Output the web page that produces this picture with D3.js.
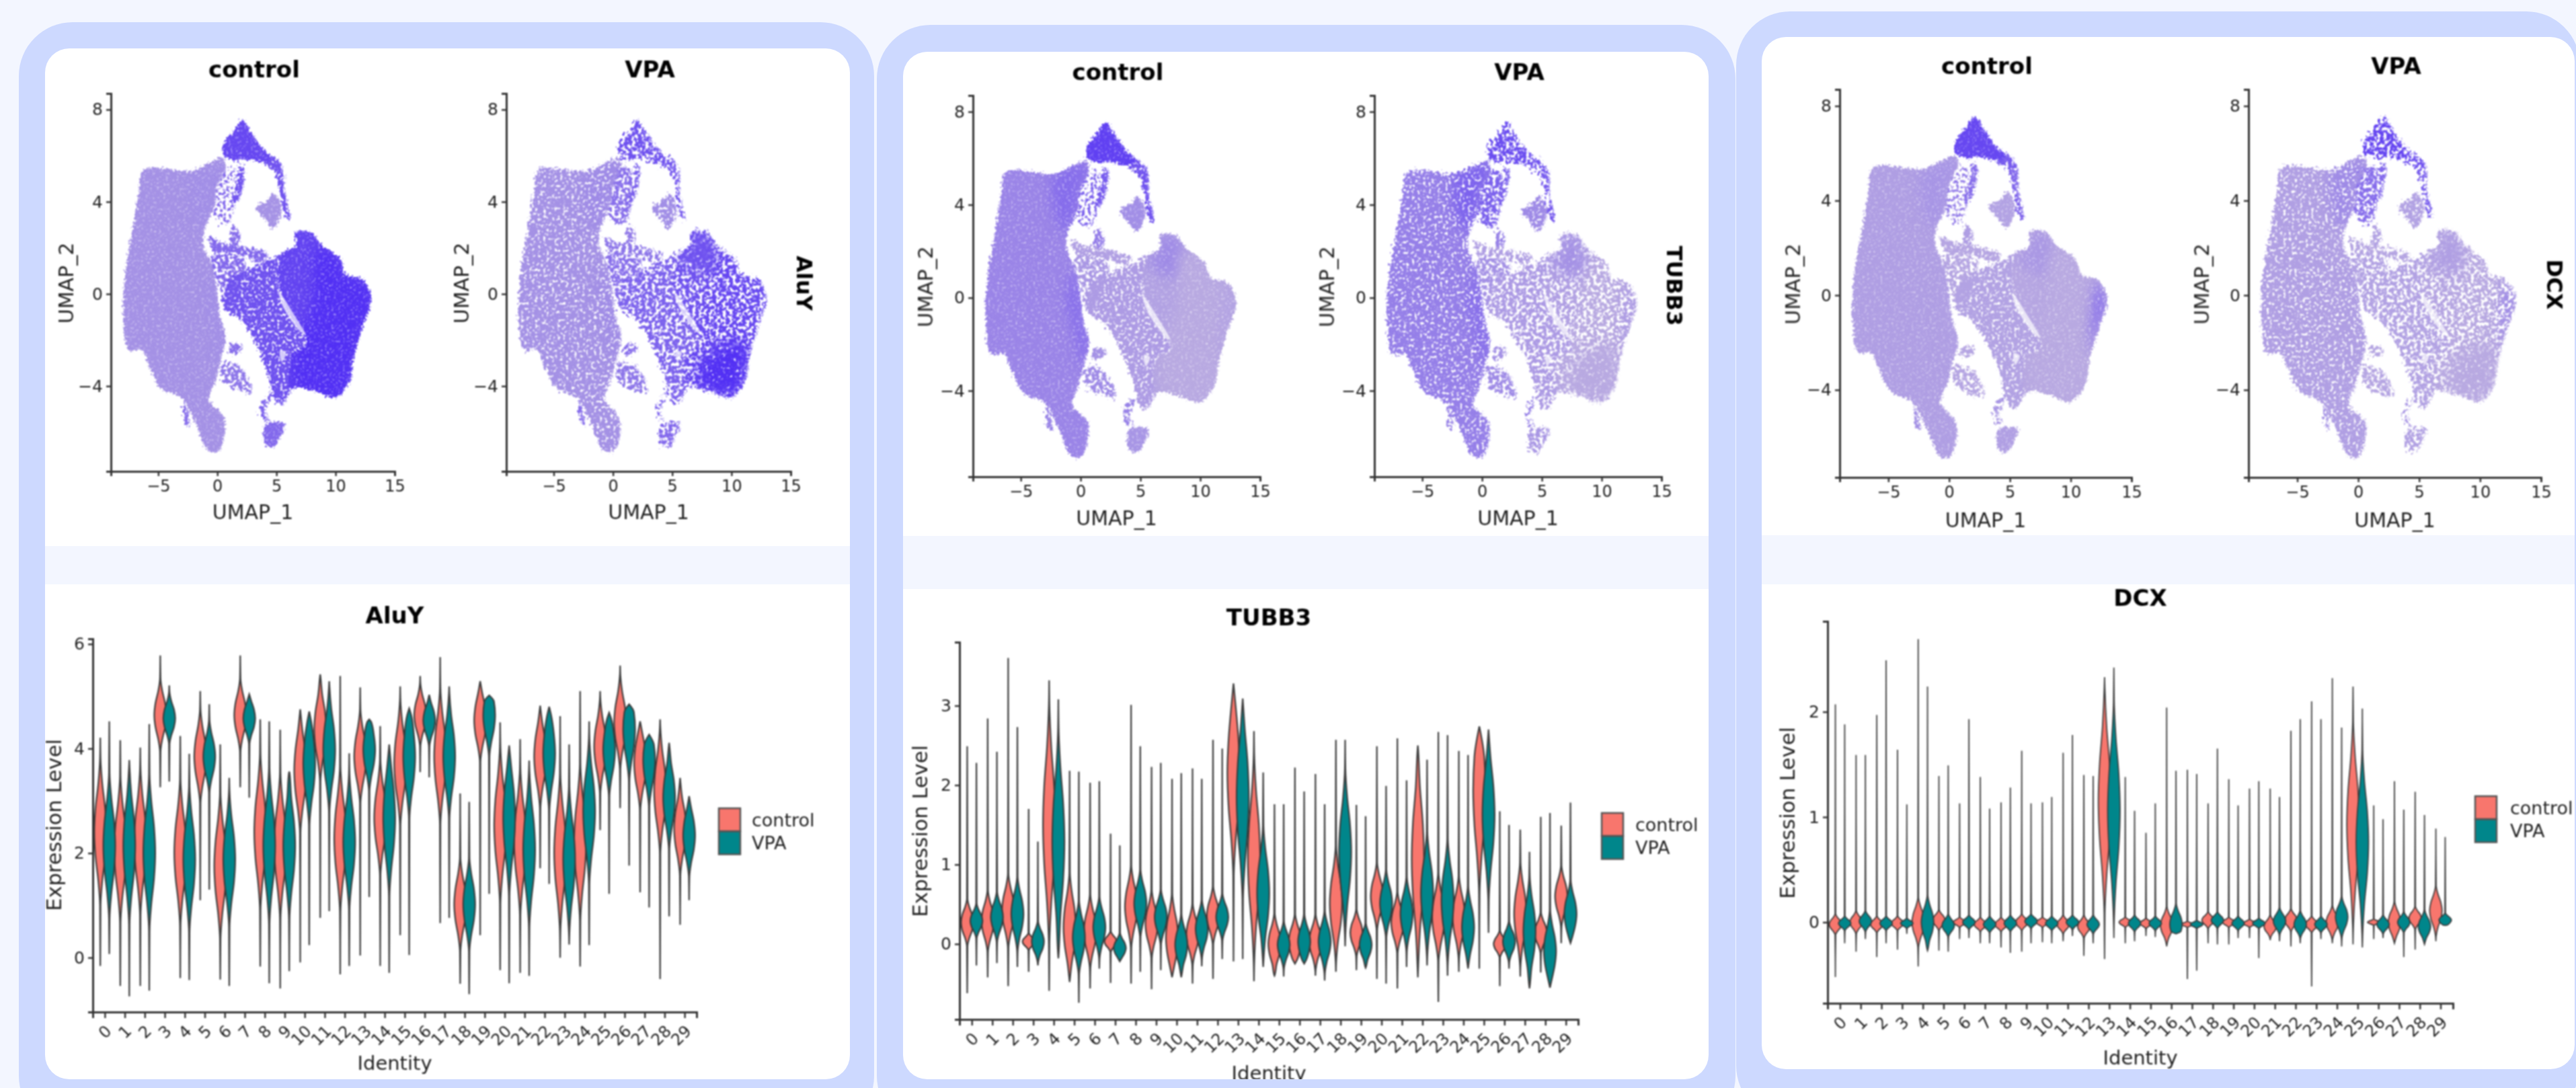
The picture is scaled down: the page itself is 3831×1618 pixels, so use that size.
<!DOCTYPE html>
<html lang="en">
<head>
    <meta charset="utf-8">
    <title>AluY, TUBB3 and DCX in control and VPA</title>
    <style>
        html, body { margin: 0; padding: 0; background: #f3f6ff; overflow: hidden; }
        svg { display: block; font-family: "DejaVu Sans", sans-serif; }
        .axis path, .axis line { stroke: #333; }
    </style>
</head>
<body>
    <script src="https://cdnjs.cloudflare.com/ajax/libs/d3/7.9.0/d3.min.js"></script>
    <script>

    const categories = ["0","1","2","3","4","5","6","7","8","9","10","11","12","13","14","15","16","17","18","19","20","21","22","23","24","25","26","27","28","29"];
    const seriesNames = ["control", "VPA"];
    const seriesColors = ["#f8766d", "#00868b"];

    const umapXTicks = [-5, 0, 5, 10, 15];
    const umapYTicks = [-4, 0, 4, 8];
    const aluyTicks = [0, 2, 4, 6];
    const tubb3Ticks = [0, 1, 2, 3];
    const dcxTicks = [0, 1, 2];

    // violins: whisker ends, widest point, half height of the fat part
    const aluyControlHi = [4.21,4.16,4.02,5.78,4.24,5.10,4.08,5.78,4.56,4.36,4.75,5.42,5.39,5.17,4.43,5.19,5.39,5.75,3.14,5.29,4.50,4.18,4.82,4.62,5.10,5.10,5.59,4.52,4.56,3.44];
    const aluyControlLo = [-0.16,-0.54,-0.54,3.26,-0.39,1.10,-0.42,3.26,-0.17,-0.59,-0.09,0.76,-0.32,0.04,-0.16,0.43,3.55,0.66,-0.50,0.43,-0.24,-0.29,1.71,0,-0.17,2.44,2.86,1.25,-0.41,0.63];
    const aluyControlMid = [2.40,2.07,2.21,4.64,2.01,3.85,1.75,4.64,2.40,2.14,3.58,4.37,2.27,3.85,2.67,3.72,4.64,3.85,1.02,4.54,2.53,2.21,3.85,2.01,2.21,4.04,4.50,3.72,3.19,2.47];
    const aluyControlBody = [1.4,1.4,1.4,0.7,1.4,0.9,1.4,0.7,1.5,1.4,1.2,1.0,1.4,0.9,1.1,1.2,0.6,1.3,0.9,0.8,1.5,1.4,1.0,1.5,1.5,0.9,0.9,0.9,1.2,0.9];
    const aluyVpaHi = [4.52,3.78,4.47,5.21,3.90,4.85,3.44,5.04,4.52,3.55,4.71,5.29,3.91,4.56,4.08,4.77,5.03,5.19,2.98,5.02,4.06,3.77,4.80,4.08,4.52,4.69,4.85,4.27,4.11,3.09];
    const aluyVpaLo = [0.07,-0.74,-0.63,3.37,-0.43,1.30,-0.54,3.06,-0.49,-0.26,0.24,0.89,-0.16,1.16,-0.29,0.05,3.45,0.76,-0.70,1.22,-0.49,-0.35,1.41,0.25,0.24,1.22,1.76,0.96,0.79,1.10];
    const aluyVpaMid = [2.14,2.14,2.01,4.58,1.88,3.85,1.88,4.58,2.14,2.14,3.72,3.98,2.21,3.98,2.67,3.85,4.54,3.85,1.02,4.64,2.67,2.07,3.91,1.88,2.80,3.98,4.37,3.78,3.06,2.34];
    const aluyVpaBody = [1.4,1.5,1.5,0.5,1.4,0.7,1.3,0.5,1.5,1.4,1.2,1.2,1.3,0.8,1.5,1.2,0.5,1.2,0.9,0.8,1.5,1.5,1.1,1.4,1.4,0.9,1.0,0.9,1.0,0.8];

    const tubb3ControlHi = [2.49,2.84,3.60,1.70,3.32,2.18,2.03,1.39,3.01,2.23,2.08,2.21,2.57,3.28,2.68,1.76,2.22,2.14,2.57,1.75,2.49,2.59,2.50,2.67,2.43,2.74,1.67,1.44,1.60,1.49];
    const tubb3ControlLo = [-0.62,-0.42,-0.53,-0.35,-0.59,-0.48,-0.56,-0.49,-0.50,-0.57,-0.42,-0.50,-0.44,-0.22,-0.47,-0.40,-0.25,-0.40,-0.35,-0.33,-0.44,-0.56,-0.42,-0.73,-0.35,-0.31,-0.53,-0.41,-0.36,0.01];
    const tubb3ControlMid = [0.27,0.29,0.42,0.03,1.50,0.21,0.16,0.03,0.47,0.25,0.08,0.12,0.36,2.15,1.07,0,0.03,0.03,0.51,0.14,0.60,0.27,1.07,0.34,0.34,1.93,0,0.38,0.14,0.60];
    const tubb3ControlBody = [0.30,0.39,0.47,0.11,1.50,0.69,0.47,0.13,0.52,0.43,0.56,0.39,0.37,1.30,1.30,0.39,0.35,0.35,0.73,0.30,0.43,0.39,1.38,0.56,0.52,1.30,0.17,0.65,0.26,0.39];
    const tubb3VpaHi = [2.28,2.42,2.73,1.29,3.08,2.17,2.05,1.24,2.49,2.28,2.15,2.08,2.46,3.09,2.16,1.76,1.92,1.76,2.57,1.61,1.99,2.06,2.32,2.63,2.38,2.70,1.50,1.16,1.65,1.78];
    const tubb3VpaLo = [-0.27,-0.24,-0.29,-0.27,-0.18,-0.74,-0.31,-0.22,-0.35,-0.33,-0.42,-0.28,-0.19,-0.19,-0.29,-0.41,-0.25,-0.46,-0.03,-0.30,-0.50,-0.29,-0.27,-0.40,-0.31,0.14,-0.31,-0.56,-0.55,0.01];
    const tubb3VpaMid = [0.29,0.34,0.38,0.03,1.29,0.08,0.21,-0.05,0.51,0.34,-0.01,0.19,0.34,1.85,0.64,-0.01,0.03,0.03,1.16,-0.01,0.51,0.38,0.64,0.55,0.21,1.63,0.03,0.16,-0.09,0.38];
    const tubb3VpaBody = [0.22,0.32,0.47,0.26,1.42,0.47,0.39,0.19,0.43,0.35,0.39,0.37,0.30,1.30,0.86,0.30,0.35,0.39,1.04,0.28,0.43,0.47,0.78,0.78,0.52,1.08,0.26,0.69,0.52,0.43];

    const dcxControlHi = [2.07,1.59,1.97,1.64,2.69,1.39,1.13,1.38,1.14,1.63,1.14,1.61,1.40,2.33,1.38,0.85,2.04,1.45,1.13,1.36,1.27,1.27,1.82,2.10,2.32,2.24,1.11,1.34,1.24,0.89];
    const dcxControlLo = [-0.52,-0.28,-0.33,-0.26,-0.42,-0.27,-0.16,-0.20,-0.24,-0.28,-0.19,-0.18,-0.32,-0.35,-0.20,-0.13,-0.23,-0.54,-0.20,-0.21,-0.15,-0.17,-0.23,-0.61,-0.20,-0.21,-0.16,-0.20,-0.26,-0.18];
    const dcxControlMid = [-0.02,0,-0.02,-0.01,0,0.02,0,-0.02,-0.02,0,0,-0.02,-0.04,1.15,0,-0.01,-0.03,-0.02,0.02,0,-0.01,-0.04,0.02,-0.02,0,0.93,0,0,0.04,0.11];
    const dcxControlBody = [0.10,0.11,0.08,0.07,0.24,0.10,0.05,0.07,0.07,0.08,0.05,0.09,0.11,1.07,0.05,0.05,0.18,0.03,0.08,0.05,0.04,0.11,0.11,0.08,0.16,0.98,0.03,0.20,0.11,0.24];
    const dcxVpaHi = [1.88,1.59,2.49,1.12,2.24,1.49,1.93,1.08,1.28,1.13,1.19,1.78,1.39,2.42,1.06,1.13,1.44,1.41,1.65,1.11,1.34,1.19,1.93,1.93,1.85,2.03,0.98,1.07,1.02,0.81];
    const dcxVpaLo = [-0.20,-0.16,-0.20,-0.11,-0.27,-0.28,-0.15,-0.20,-0.29,-0.20,-0.20,-0.13,-0.20,-0.15,-0.18,-0.14,-0.11,-0.46,-0.21,-0.15,-0.34,-0.18,-0.20,-0.16,-0.23,-0.24,-0.15,-0.33,-0.21,-0.03];
    const dcxVpaMid = [-0.01,0.01,-0.01,-0.01,0,-0.03,0,-0.02,-0.01,0.01,-0.01,0,-0.02,1.06,-0.01,-0.01,-0.02,-0.02,0.02,-0.01,-0.01,0.01,-0.02,-0.02,0.05,0.76,-0.02,0,-0.04,0.02];
    const dcxVpaBody = [0.07,0.10,0.07,0.05,0.26,0.11,0.07,0.08,0.08,0.07,0.07,0.07,0.09,1.04,0.08,0.07,0.20,0.04,0.08,0.07,0.05,0.13,0.13,0.08,0.20,0.88,0.09,0.10,0.16,0.07];

    // umap cloud outlines, in UMAP_1 / UMAP_2 units
    const bridge = [[-0.38,1.77],[2.36,1.47],[2.36,1.01],[0.71,-0.67],[0.24,0.09]];
    const rightLobe = [[6.62,2.69],[7.94,2.69],[8.75,2.16],[10.4,1.5],[10.87,0.86],[12.29,0.63],[13,-0.21],[12.29,-1.44],[11.58,-2.66],[11.11,-3.88],[9.93,-4.5],[8.51,-4.27],[6.62,-4.04],[6.2,-4.2],[6.3,-2.6],[7.6,-2.2],[6.2,-1],[5.2,0.4],[5.6,1.8],[6.62,2.08]];
    const rightInner = [[0.71,-0.67],[0.95,0.55],[2.36,1.01],[4.73,1.54],[5.6,1.8],[5.2,0.4],[6.2,-1],[7.6,-2.2],[6.3,-2.6],[6.2,-4.2],[5.44,-4.8],[4.96,-4.65],[4.26,-3.43],[3.31,-2.2],[1.89,-1.06]];
    const rightCrown = [[6.62,2.69],[7.94,2.69],[8.6,2.1],[8.4,0.9],[6.8,1.0],[5.6,1.6],[6.62,2.08]];
    const rightCore = [[8.5,2.0],[10.4,1.5],[10.87,0.86],[12.29,0.63],[13,-0.21],[12.29,-1.44],[11.58,-2.66],[11.11,-3.88],[9.93,-4.5],[8.51,-4.27],[6.62,-4.04],[6.5,-2.5],[8,-0.5]];
    const rightLow = [[7.5,-2.9],[10.9,-2.0],[11.2,-3.8],[9.93,-4.5],[8.51,-4.27],[7.5,-4.1]];
    const rightEdge = [[12.1,0.6],[13,-0.21],[12.29,-1.44],[11.7,-2.5],[11.7,-1.2],[11.9,-0.2]];
    const leftLobe = [[-6.24,5.41],[-2.13,5.34],[-0.71,5.67],[0.47,5.9],[0.71,5.52],[0,4.68],[-0.24,3.76],[-1.04,2.84],[-1.18,2.16],[-0.38,1.16],[0,0.09],[0.24,-0.98],[0.71,-1.9],[0.24,-2.97],[-0.24,-3.88],[-0.71,-4.57],[0.61,-5.41],[0.09,-6.82],[-0.71,-6.82],[-1.89,-5.57],[-3.07,-4.5],[-4.73,-4.11],[-5.91,-2.97],[-6.38,-2.43],[-7.47,-2.43],[-7.94,-0.98],[-7.8,0.86],[-7.09,3],[-6.62,4.53]];
    const leftTop = [[-2.13,5.34],[-0.71,5.67],[0.47,5.9],[0.71,5.52],[0,4.68],[-0.24,3.76],[-1.04,2.84],[-1.6,3.0],[-2.4,4.2]];
    const leftEdge = [[-0.5,1.2],[0,0.09],[0.24,-0.98],[0.71,-1.9],[0.24,-2.97],[-0.5,-1.5],[-1.1,0]];
    const topTip = [[2.13,7.55],[2.84,7.05],[3.78,6.36],[4.6,5.9],[4.0,5.7],[2.36,5.85],[1.42,5.8],[0.47,6.06],[0.61,6.59],[1.32,7.05]];
    const topArm = [[4.6,6.0],[5.3,5.7],[5.67,5.3],[5.2,5.1],[4.7,5.4],[4.0,5.6]];
    const topScatter = [[0.2,5.4],[1.5,5.4],[1.6,3.8],[0.9,3],[0,3.2],[-0.3,4]];
    const rightStrand = [[5.0,5.4],[5.6,5.3],[5.7,4.5],[6.15,3.23],[5.85,3.3],[5.3,4.5]];
    const leftStrand = [[1.9,5.6],[2.3,5.5],[2.2,4.7],[1.7,4.0],[1.3,3.9],[1.7,4.8]];
    const midStrand = [[1.42,3],[1.99,2.54],[1.65,2.08],[1.18,2.23],[1.18,2.69]];
    const topBlob = [[4.73,4.37],[5.44,3.76],[4.73,2.84],[4.02,3.23],[3.31,3.76],[4.26,4.07]];
    const midBand = [[-0.71,2.46],[0.47,2.23],[2.84,2],[4.26,1.7],[3.78,1.39],[1.89,1.7],[-0.24,1.85]];
    const lowerBlob = [[0.47,-2.97],[1.89,-3.12],[2.84,-3.88],[2.93,-4.27],[1.42,-4.11],[0.47,-3.73]];
    const lowerBit = [[1.18,-2.13],[2.13,-2.28],[1.89,-2.58],[0.95,-2.58]];
    const footBlob = [[4.16,-5.64],[5.67,-5.64],[5.2,-6.33],[4.82,-6.64],[4.16,-6.6],[3.88,-6.1]];
    const footStrand = [[4.26,-4.34],[4.73,-4.27],[4.16,-5.11],[4.5,-5.49],[3.88,-5.49],[3.69,-4.8]];
    const leftWisp = [[-2.84,-4.65],[-2.5,-5],[-2.36,-5.72],[-2.7,-5.6]];

    const cloudRegions = [bridge, rightLobe, rightInner, rightCrown, rightCore, rightLow, rightEdge, leftLobe, leftTop, leftEdge, topTip, topArm, topScatter, rightStrand, leftStrand, midStrand, topBlob, midBand, lowerBlob, lowerBit, footBlob, footStrand, leftWisp];

    // shading regions fade into the lobe they sit in, index into cloudRegions
    const softParents = { 3: 1, 4: 1, 5: 1, 6: 1, 8: 7, 9: 7 };

    // white gaps inside the cloud
    const gapStreak = [[5.2,0.1],[6.62,-1.0],[7.5,-1.8],[6.86,-1.55],[5.5,-0.5]];
    const gapLow = [[5.3,-2.45],[5.8,-2.55],[5.44,-2.95]];
    const cloudGaps = [gapStreak, gapLow];

    // expression level per region (same order as cloudRegions), 0 = grey, 1 = full blue
    const aluyControlLevels = [0.55,0.82,0.72,0.82,0.97,0.97,0.97,0.25,0.27,0.27,0.8,0.7,0.55,0.7,0.7,0.5,0.24,0.55,0.45,0.5,0.55,0.6,0.5];
    const aluyVpaLevels = [0.5,0.72,0.6,0.72,0.8,0.97,0.75,0.25,0.3,0.3,0.72,0.7,0.5,0.65,0.6,0.4,0.27,0.45,0.45,0.5,0.55,0.6,0.5];
    const tubb3ControlLevels = [0.2,0.12,0.17,0.3,0.07,0.07,0.12,0.34,0.52,0.52,0.85,0.7,0.6,0.7,0.65,0.4,0.27,0.14,0.3,0.25,0.22,0.35,0.35];
    const tubb3VpaLevels = [0.25,0.14,0.18,0.25,0.07,0.07,0.2,0.38,0.6,0.52,0.75,0.7,0.6,0.65,0.6,0.35,0.3,0.15,0.3,0.25,0.2,0.35,0.35];
    const dcxControlLevels = [0.1,0.09,0.12,0.2,0.07,0.07,0.5,0.15,0.22,0.15,0.8,0.65,0.4,0.55,0.5,0.15,0.12,0.1,0.1,0.1,0.14,0.2,0.25];
    const dcxVpaLevels = [0.12,0.1,0.12,0.15,0.07,0.07,0.35,0.14,0.3,0.16,0.8,0.7,0.5,0.6,0.55,0.12,0.12,0.1,0.1,0.1,0.12,0.2,0.25];

    const controlTexture = ["sparse","dense","medium","dense","dense","dense","dense","dense","dense","dense","dense","medium","faint","medium","medium","medium","dense","medium","sparse","medium","dense","sparse","medium"];
    const vpaTexture = ["sparse","sparse","sparse","medium","sparse","medium","sparse","medium","medium","medium","sparse","sparse","sparse","sparse","sparse","sparse","medium","sparse","sparse","sparse","sparse","faint","sparse"];

    const textureKinds = ["faint", "sparse", "medium", "dense"];

    const genes = {
        AluY: { ticks: aluyTicks, domain: [-1.04, 6.1],
            control: { hi: aluyControlHi, lo: aluyControlLo, mid: aluyControlMid, body: aluyControlBody, levels: aluyControlLevels },
            VPA: { hi: aluyVpaHi, lo: aluyVpaLo, mid: aluyVpaMid, body: aluyVpaBody, levels: aluyVpaLevels } },
        TUBB3: { ticks: tubb3Ticks, domain: [-0.95, 3.8],
            control: { hi: tubb3ControlHi, lo: tubb3ControlLo, mid: tubb3ControlMid, body: tubb3ControlBody, levels: tubb3ControlLevels },
            VPA: { hi: tubb3VpaHi, lo: tubb3VpaLo, mid: tubb3VpaMid, body: tubb3VpaBody, levels: tubb3VpaLevels } },
        DCX: { ticks: dcxTicks, domain: [-0.77, 2.86],
            control: { hi: dcxControlHi, lo: dcxControlLo, mid: dcxControlMid, body: dcxControlBody, levels: dcxControlLevels },
            VPA: { hi: dcxVpaHi, lo: dcxVpaLo, mid: dcxVpaMid, body: dcxVpaBody, levels: dcxVpaLevels } }
    };

    // page layout, one entry per card
    const panels = [
        { gene: "AluY", blur: 1.3, whisker: 2.2,
          outer: [28, 33, 1272, 1607], inner: [67, 72, 1197, 1533], band: [812, 869],
          umapY: [701, 139], umapX: [[165, 587], [753, 1176]], umapTitleY: 103, umapTickY: 727, umap1Y: 761, umap2X: [98, 686], featX: 1196, featY: 421,
          vlnX: [138, 1036], vlnY: [1505, 950], titleY: 915, ylabX: 80, ylabY: 1227, identityY: 1581,
          legend: [1069, 1202, 1118] },
        { gene: "TUBB3", blur: 1.3, whisker: 2.2,
          outer: [1304, 37, 1277, 1603], inner: [1343, 77, 1198, 1528], band: [797, 876],
          umapY: [709, 142], umapX: [[1447, 1874], [2044, 2471]], umapTitleY: 107, umapTickY: 734, umap1Y: 770, umap2X: [1376, 1973], featX: 2490, featY: 425,
          vlnX: [1427, 2347], vlnY: [1516, 955], titleY: 918, ylabX: 1368, ylabY: 1236, identityY: 1596,
          legend: [2382, 1209, 2432] },
        { gene: "DCX", blur: 0.9, whisker: 1.8,
          outer: [2582, 17, 1255, 1608], inner: [2620, 55, 1209, 1535], band: [796, 869],
          umapY: [710, 133], umapX: [[2736, 3170], [3344, 3779]], umapTitleY: 98, umapTickY: 736, umap1Y: 773, umap2X: [2666, 3274], featX: 3799, featY: 423,
          vlnX: [2718, 3648], vlnY: [1492, 924], titleY: 889, ylabX: 2658, ylabY: 1209, identityY: 1573,
          legend: [3681, 1184, 3733] }
    ];

    const width = 3831;
    const height = 1618;
    const bgColor = "#f3f6ff";
    const cardColor = "#cdd9ff";

    const svg = d3.select("body").append("svg")
        .attr("width", width)
        .attr("height", height);

    const defs = svg.append("defs");

    // speckle and a rough edge so the cloud reads as single cells
    function addTexture(id, freq, gain, offset, rough) {
        const f = defs.append("filter")
            .attr("id", id)
            .attr("color-interpolation-filters", "sRGB");
        f.append("feTurbulence")
            .attr("type", "fractalNoise")
            .attr("baseFrequency", freq)
            .attr("numOctaves", 2)
            .attr("seed", 4)
            .attr("result", "noise");
        f.append("feDisplacementMap")
            .attr("in", "SourceGraphic")
            .attr("in2", "noise")
            .attr("scale", rough)
            .attr("xChannelSelector", "R")
            .attr("yChannelSelector", "G")
            .attr("result", "rough");
        f.append("feColorMatrix")
            .attr("in", "noise")
            .attr("type", "matrix")
            .attr("values", `0 0 0 0 0  0 0 0 0 0  0 0 0 0 0  ${gain} 0 0 0 ${offset}`)
            .attr("result", "mask");
        f.append("feComposite")
            .attr("in", "rough")
            .attr("in2", "mask")
            .attr("operator", "in");
    }
    addTexture("dense", 0.3, 2.2, 0.05, 12);
    addTexture("medium", 0.24, 7, -2.1, 16);
    addTexture("sparse", 0.2, 9, -3.6, 20);
    addTexture("faint", 0.22, 10, -5.0, 20);

    svg.append("rect").attr("width", width).attr("height", height).attr("fill", bgColor);

    const levelColor = d3.scaleLinear().domain([0, 1]).range(["#c0b2e0", "#4f2cf5"]);

    function styleAxis(sel, fontSize) {
        sel.attr("class", "axis");
        sel.selectAll("path").attr("stroke-width", 3);
        sel.selectAll("line").attr("stroke-width", 2.5);
        sel.selectAll("text").attr("font-size", fontSize).attr("fill", "#222").attr("font-family", "DejaVu Sans");
    }

    function drawUmap(g, p, condition, idx, n) {
        const geneData = genes[p.gene][condition];
        const range = p.umapX[idx];
        const x = d3.scaleLinear().domain([-9, 15]).range(range);
        const y = d3.scaleLinear().domain([-7.7, 8.7]).range(p.umapY);
        const line = d3.line().x(d => x(d[0])).y(d => y(d[1])).curve(d3.curveCatmullRomClosed.alpha(0.5));
        const texture = condition === "control" ? controlTexture : vpaTexture;

        // clip paths for the soft shading
        [1, 7].forEach(i => {
            defs.append("clipPath").attr("id", `lobe${n}-${idx}-${i}`)
                .append("path").attr("d", line(cloudRegions[i]));
        });

        textureKinds.forEach(kind => {
            const layer = g.append("g").attr("filter", `url(#${kind})`);
            cloudRegions.forEach((region, i) => {
                if (texture[i] !== kind) return;
                const parent = softParents[i];
                const target = parent === undefined ? layer
                    : layer.append("g").attr("clip-path", `url(#lobe${n}-${idx}-${parent})`);
                const path = target.append("path")
                    .attr("d", line(region))
                    .attr("fill", levelColor(geneData.levels[i]));
                if (parent !== undefined) path.style("filter", "blur(9px)");
            });
        });

        g.append("g").selectAll("path")
            .data(cloudGaps)
            .enter()
            .append("path")
            .attr("d", line)
            .attr("fill", "#fff")
            .attr("opacity", 0.7);

        g.append("g")
            .attr("transform", `translate(0,${p.umapY[0]})`)
            .call(d3.axisBottom(x).tickValues(umapXTicks).tickSize(7).tickPadding(6))
            .call(styleAxis, 24);

        g.append("g")
            .attr("transform", `translate(${range[0]},0)`)
            .call(d3.axisLeft(y).tickValues(umapYTicks).tickSize(7).tickPadding(5))
            .call(styleAxis, 25);

        const mid = (range[0] + range[1]) / 2;
        g.append("text")
            .attr("x", mid + 2)
            .attr("y", p.umapTitleY)
            .attr("dy", "0.35em")
            .attr("text-anchor", "middle")
            .attr("font-size", 34)
            .attr("font-weight", "bold")
            .attr("fill", "#000")
            .text(condition);

        g.append("text")
            .attr("x", mid)
            .attr("y", p.umap1Y)
            .attr("dy", "0.35em")
            .attr("text-anchor", "middle")
            .attr("font-size", 30)
            .attr("fill", "#222")
            .text("UMAP_1");

        g.append("text")
            .attr("transform", `translate(${p.umap2X[idx]},${(p.umapY[0] + p.umapY[1]) / 2 + 1}) rotate(-90)`)
            .attr("dy", "0.35em")
            .attr("text-anchor", "middle")
            .attr("font-size", 30)
            .attr("fill", "#222")
            .text("UMAP_2");
    }

    function drawViolins(g, p) {
        const gene = genes[p.gene];
        const x = d3.scalePoint().domain(categories).range(p.vlnX).padding(0.6);
        const y = d3.scaleLinear().domain(gene.domain).range(p.vlnY);
        const step = x.step();
        const halfWidth = d3.scaleLinear().domain([0, 1]).range([0, step * 0.3]);

        // spindle: thin tails, then a fat part around the widest point
        const profile = [[-1, 0.05], [-0.66, 0.34], [-0.33, 0.8], [0, 1], [0.33, 0.8], [0.66, 0.34], [1, 0.05]];

        seriesNames.forEach((name, s) => {
            const d = gene[name];
            const offset = (s === 0 ? -0.225 : 0.225) * step;
            categories.forEach((cat, i) => {
                const pts = [[d.lo[i], 0]];
                profile.forEach(q => {
                    const v = d.mid[i] + q[0] * d.body[i];
                    if (v > d.lo[i] && v < d.hi[i]) pts.push([v, q[1]]);
                });
                pts.push([d.hi[i], 0]);
                const cx = x(cat) + offset;
                const area = d3.area()
                    .y(q => y(q[0]))
                    .x0(q => cx - halfWidth(q[1]))
                    .x1(q => cx + halfWidth(q[1]))
                    .curve(d3.curveMonotoneY);
                g.append("path")
                    .attr("d", area(pts))
                    .attr("fill", seriesColors[s])
                    .attr("stroke", "#3a3a3a")
                    .attr("stroke-width", p.whisker);
            });
        });

        const xAxis = g.append("g")
            .attr("transform", `translate(0,${p.vlnY[0]})`)
            .call(d3.axisBottom(x).tickSize(9));
        xAxis.call(styleAxis, 24);
        xAxis.selectAll("text")
            .attr("y", 0)
            .attr("dy", "0.35em")
            .attr("text-anchor", "end")
            .attr("transform", "translate(5,24) rotate(-45)");

        g.append("g")
            .attr("transform", `translate(${p.vlnX[0]},0)`)
            .call(d3.axisLeft(y).tickValues(gene.ticks).tickFormat(d3.format("d")).tickSize(7).tickPadding(5))
            .call(styleAxis, 25);

        const mid = (p.vlnX[0] + p.vlnX[1]) / 2;
        g.append("text")
            .attr("x", mid)
            .attr("y", p.titleY)
            .attr("dy", "0.35em")
            .attr("text-anchor", "middle")
            .attr("font-size", 34)
            .attr("font-weight", "bold")
            .attr("fill", "#000")
            .text(p.gene);

        g.append("text")
            .attr("x", mid)
            .attr("y", p.identityY)
            .attr("dy", "0.35em")
            .attr("text-anchor", "middle")
            .attr("font-size", 29)
            .attr("fill", "#222")
            .text("Identity");

        g.append("text")
            .attr("transform", `translate(${p.ylabX},${p.ylabY}) rotate(-90)`)
            .attr("dy", "0.35em")
            .attr("text-anchor", "middle")
            .attr("font-size", 30.5)
            .attr("fill", "#222")
            .text("Expression Level");

        // legend
        const [lx, ly, tx] = p.legend;
        seriesNames.forEach((name, s) => {
            g.append("rect")
                .attr("x", lx)
                .attr("y", ly + s * 34.5)
                .attr("width", 32)
                .attr("height", 34)
                .attr("fill", seriesColors[s])
                .attr("stroke", "#555")
                .attr("stroke-width", 2.5);
            g.append("text")
                .attr("x", tx)
                .attr("y", ly + 18 + s * 34)
                .attr("dy", "0.35em")
                .attr("font-size", 27)
                .attr("fill", "#222")
                .text(name);
        });
    }

    panels.forEach((p, n) => {
        svg.append("rect")
            .attr("x", p.outer[0]).attr("y", p.outer[1])
            .attr("width", p.outer[2]).attr("height", p.outer[3] + 40)
            .attr("rx", 80)
            .attr("fill", cardColor);

        svg.append("rect")
            .attr("x", p.inner[0]).attr("y", p.inner[1])
            .attr("width", p.inner[2]).attr("height", p.inner[3])
            .attr("rx", 36)
            .attr("fill", "#fff");

        svg.append("rect")
            .attr("x", p.inner[0]).attr("y", p.band[0])
            .attr("width", p.inner[2]).attr("height", p.band[1] - p.band[0])
            .attr("fill", bgColor);

        defs.append("clipPath").attr("id", `card${n}`)
            .append("rect")
            .attr("x", p.inner[0]).attr("y", p.inner[1])
            .attr("width", p.inner[2]).attr("height", p.inner[3]);

        const clip = svg.append("g").attr("clip-path", `url(#card${n})`);
        const g = clip.append("g").style("filter", `blur(${p.blur}px)`);

        seriesNames.forEach((cond, i) => drawUmap(g, p, cond, i, n));

        g.append("text")
            .attr("transform", `translate(${p.featX},${p.featY}) rotate(90)`)
            .attr("dy", "0.35em")
            .attr("text-anchor", "middle")
            .attr("font-size", 32)
            .attr("font-weight", "bold")
            .attr("fill", "#000")
            .text(p.gene);

        drawViolins(g, p);
    });

    </script>
</body>
</html>
